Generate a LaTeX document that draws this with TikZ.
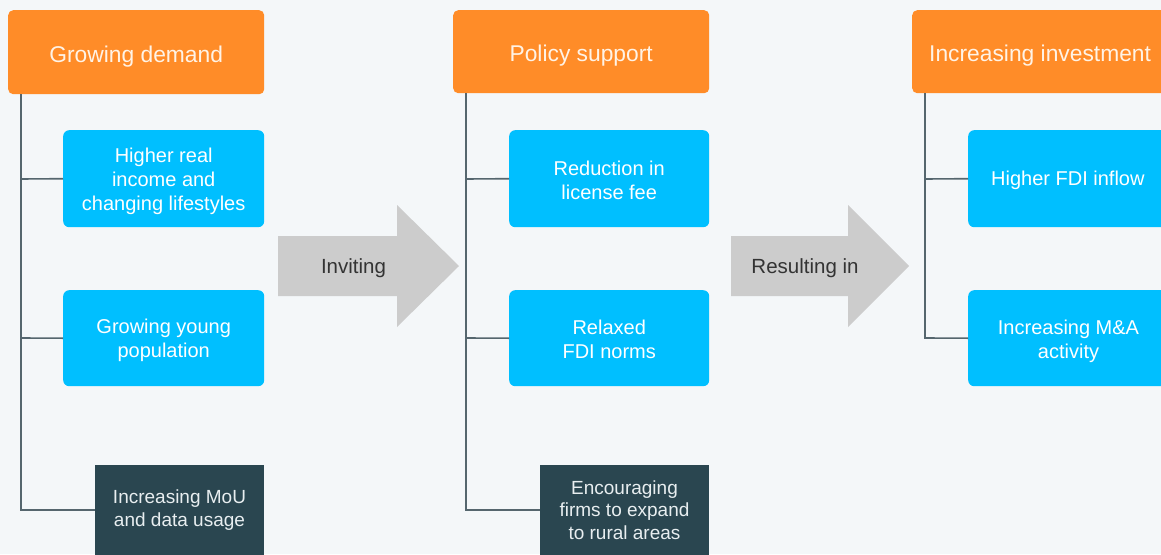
\documentclass[tikz,border=0pt]{standalone}
\usepackage{fontspec}
\setmainfont{Liberation Sans}
\definecolor{bg}{HTML}{F4F7F9}
\definecolor{hdr}{HTML}{FF8C28}
\definecolor{sub}{HTML}{00BFFF}
\definecolor{dark}{HTML}{2A4650}
\definecolor{arr}{HTML}{CCCCCC}
\definecolor{conn}{HTML}{55666E}
\definecolor{hdrtext}{HTML}{FFF3E6}
\definecolor{darktext}{HTML}{E8EEF0}
\begin{document}
\begin{tikzpicture}[x=1pt,y=-1pt,
  header/.style={fill=hdr, rounded corners=5pt, anchor=north west, inner sep=0pt},
  subbox/.style={fill=sub, rounded corners=6pt, anchor=north west, inner sep=0pt},
  darkbox/.style={fill=dark, anchor=north west, inner sep=0pt},
  htext/.style={text=hdrtext, font=\fontsize{22.8}{27}\selectfont, align=center, inner sep=0pt},
  stext/.style={text=white, font=\fontsize{20}{24}\selectfont, align=center, inner sep=0pt},
  dtext/.style={text=darktext, font=\fontsize{19}{22.5}\selectfont, align=center, inner sep=0pt},
  link/.style={draw=conn, line width=1.6pt},
  arrowlabel/.style={text=black!80, font=\fontsize{20.5}{24}\selectfont, inner sep=0pt}
]
\useasboundingbox (0,0) rectangle (1161,554);
\clip (0,0) rectangle (1161,554);
\fill[bg] (0,0) rectangle (1161,554);

% Column 1
\node[header, minimum width=256pt, minimum height=84pt] (h1) at (8,10) {};
\node[htext] (h1t) at ([yshift=-4pt]h1.center) {Growing demand};
\node[subbox, minimum width=201pt, minimum height=97pt] (a1) at (63,130) {};
\node[stext] (a1t) at ([yshift=-2.5pt]a1.center) {Higher real\\income and\\changing lifestyles};
\node[subbox, minimum width=201pt, minimum height=96pt] (a2) at (63,290) {};
\node[stext] (a2t) at ([yshift=-2.5pt]a2.center) {Growing young\\population};
\node[darkbox, minimum width=169pt, minimum height=95pt] (a3) at (95,465) {};
\node[dtext] (a3t) at (179.5,510) {Increasing MoU\\and data usage};

% Column 2
\node[header, minimum width=256pt, minimum height=83pt] (h2) at (453,10) {};
\node[htext] (h2t) at ([yshift=-4pt]h2.center) {Policy support};
\node[subbox, minimum width=200pt, minimum height=97pt] (b1) at (509,130) {};
\node[stext] (b1t) at ([yshift=-1.5pt]b1.center) {Reduction in\\license fee};
\node[subbox, minimum width=200pt, minimum height=96pt] (b2) at (509,290) {};
\node[stext] (b2t) at ([yshift=-1.5pt]b2.center) {Relaxed\\FDI norms};
\node[darkbox, minimum width=169pt, minimum height=95pt] (b3) at (540,465) {};
\node[dtext] (b3t) at (624.5,510) {Encouraging\\firms to expand\\to rural areas};

% Column 3
\node[header, minimum width=290pt, minimum height=83pt] (h3) at (912,10) {};
\node[htext, anchor=west] (h3t) at (929,56) {Increasing investment};
\node[subbox, minimum width=230pt, minimum height=97pt] (c1) at (968,130) {};
\node[stext, anchor=west] (c1t) at (991,180) {Higher FDI inflow};
\node[subbox, minimum width=230pt, minimum height=96pt] (c2) at (968,290) {};
\node[stext] (c2t) at (1068.5,341) {Increasing M\&A\\activity};

% Connectors
\coordinate (v1) at (21,94);
\coordinate (e1) at (21,510);
\draw[link] (v1) -- (e1) -- (a3.west |- e1);
\draw[link] (21,179) -- (a1.west);
\draw[link] (21,338) -- (a2.west);

\coordinate (v2) at (466,93);
\coordinate (e2) at (466,510);
\draw[link] (v2) -- (e2) -- (b3.west |- e2);
\draw[link] (466,179) -- (b1.west);
\draw[link] (466,338) -- (b2.west);

\coordinate (v3) at (925,93);
\coordinate (e3) at (925,338);
\draw[link] (v3) -- (e3) -- (c2.west);
\draw[link] (925,179) -- (c1.west);

% Arrows
\fill[arr] (278,236) -- (397,236) -- (397,205) -- (459,266) -- (397,327) -- (397,296) -- (278,296) -- cycle;
\node[arrowlabel] (t1) at (353.5,268.5) {Inviting};
\fill[arr] (731,236) -- (848,236) -- (848,205) -- (909,266) -- (848,327) -- (848,296) -- (731,296) -- cycle;
\node[arrowlabel] (t2) at (805,268.5) {Resulting in};
\end{tikzpicture}
\end{document}
